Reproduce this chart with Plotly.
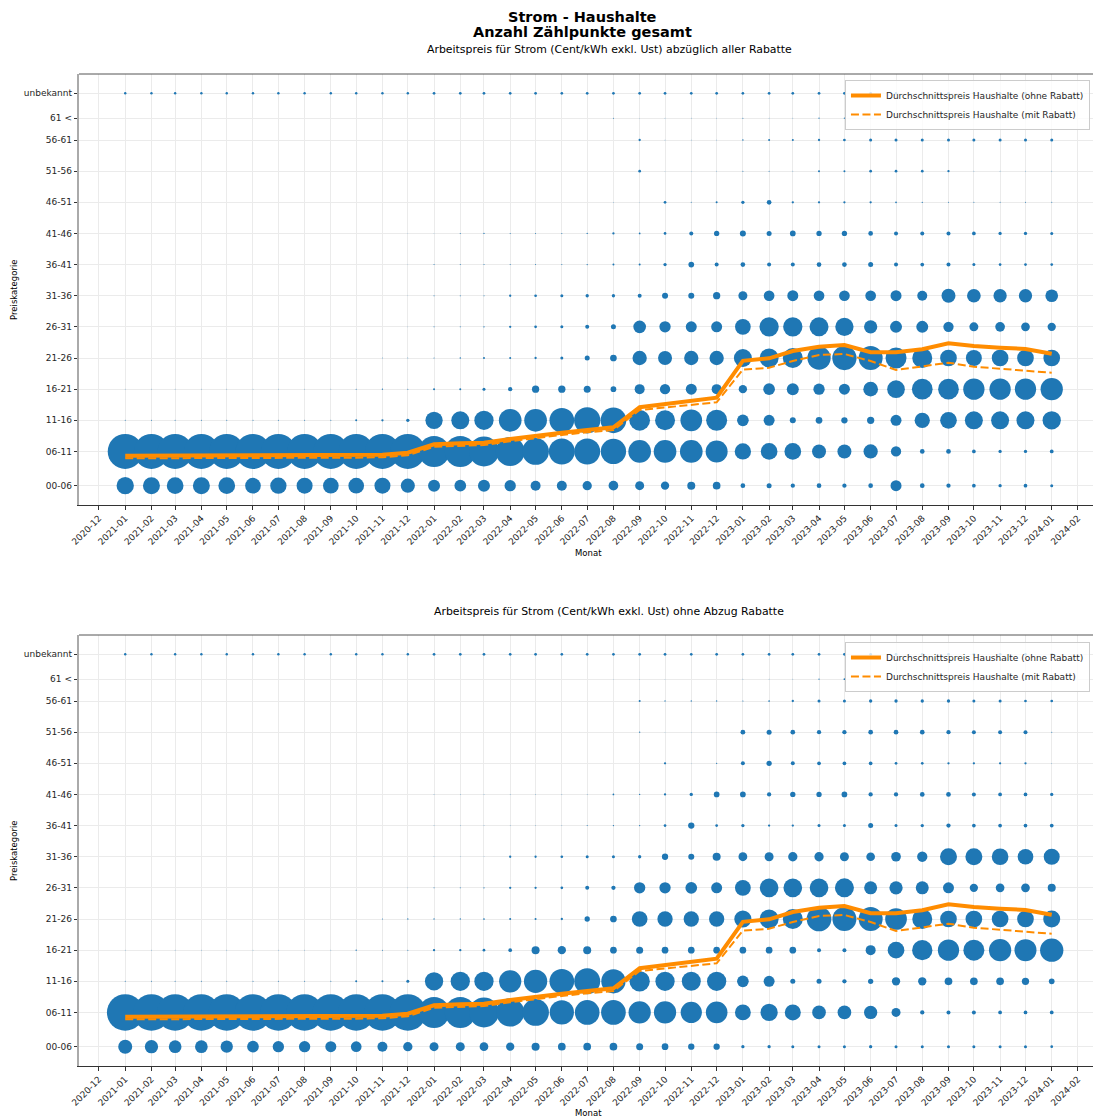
import plotly.graph_objects as go
import pandas as pd

MONATE = pd.date_range("2021-01-01", "2024-01-01", freq="MS")

KATEGORIEN = ["00-06", "06-11", "11-16", "16-21", "21-26", "26-31", "31-36",
              "36-41", "41-46", "46-51", "51-56", "56-61", "61 <", "unbekannt"]
KAT_MITTE = [3, 8.5, 13.5, 18.5, 23.5, 28.5, 33.5, 38.5, 43.5, 48.5, 53.5, 58.5, 62, 66]

# Durchschnittspreise (Cent/kWh), 2021-01 .. 2024-01
PREIS_OHNE_RABATT = [7.82, 7.82, 7.82, 7.84, 7.84, 7.86, 7.88, 7.88, 7.90, 7.92, 7.98, 8.30,
                     9.65, 9.81, 9.90, 10.50, 11.03, 11.51, 11.94, 12.38, 15.59, 16.12, 16.55, 17.13,
                     23.05, 23.45, 24.62, 25.31, 25.59, 24.42, 24.42, 24.90, 25.86, 25.43, 25.15, 24.95, 24.19]
PREIS_MIT_RABATT = [7.40, 7.40, 7.40, 7.42, 7.42, 7.44, 7.46, 7.46, 7.48, 7.50, 7.58, 7.88,
                    9.26, 9.42, 9.53, 10.13, 10.66, 11.14, 11.57, 11.94, 15.15, 15.59, 15.96, 16.39,
                    21.63, 21.94, 23.02, 23.98, 24.14, 23.02, 21.57, 22.22, 22.75, 22.10, 21.78, 21.53, 21.14]

# Anzahl Zählpunkte je Preiskategorie - abzüglich aller Rabatte
A_00_06 = [2990, 2890, 2790, 2890, 2790, 2460, 2660, 2560, 2460, 2460, 2560, 2000,
           1440, 1370, 1440, 1280, 1000, 1000, 860, 940, 810, 690, 640, 590,
           220, 250, 185, 220, 185, 220, 1210, 220, 185, 137, 109, 137, 90]
A_06_11 = [12250, 12250, 12250, 12250, 12250, 12250, 12250, 12250, 12250, 12250, 12250, 12250,
           9610, 9610, 9000, 8410, 7130, 6760, 6760, 6400, 5150, 5150, 5150, 4840,
           2660, 2790, 2790, 1960, 1960, 2045, 1060, 220, 220, 137, 109, 109, 137]
A_11_16 = [10, 10, 10, 10, 10, 10, 10, 10, 10, 40, 53, 109,
           2990, 3240, 3725, 5150, 5150, 6100, 6920, 6600, 4285, 4000, 4710, 4410,
           1370, 1210, 360, 450, 400, 530, 1210, 2340, 2790, 3240, 3240, 3240, 3350]
A_16_21 = [5, 5, 5, 5, 5, 5, 5, 5, 5, 10, 17, 10,
           40, 40, 90, 185, 530, 530, 490, 325, 1000, 1060, 1210, 1000,
           690, 1370, 1440, 1280, 1210, 2160, 3130, 4285, 4285, 4540, 4540, 4540, 4970]
A_21_26 = [0, 0, 0, 0, 0, 0, 0, 0, 0, 0, 8, 8,
           10, 22, 40, 40, 53, 90, 250, 450, 2045, 1960, 2045, 2045,
           3240, 3610, 4000, 5430, 5900, 5760, 4410, 4000, 2790, 2560, 2790, 2790, 2790]
A_26_31 = [0, 0, 0, 0, 0, 0, 0, 0, 0, 0, 0, 3,
           10, 10, 22, 53, 73, 90, 160, 250, 1610, 1280, 1210, 1210,
           2460, 3725, 3725, 3610, 3350, 1770, 1440, 1440, 1060, 810, 940, 760, 690]
A_31_36 = [0, 0, 0, 0, 0, 0, 0, 0, 0, 0, 0, 3,
           10, 10, 10, 53, 73, 90, 109, 109, 160, 360, 360, 530,
           810, 1145, 1210, 1145, 1145, 1145, 1210, 1000, 1960, 1880, 1770, 1770, 1610]
A_36_41 = [0, 0, 0, 0, 0, 0, 0, 0, 0, 0, 0, 3,
           10, 10, 10, 10, 10, 10, 17, 40, 40, 109, 325, 160,
           220, 160, 160, 220, 220, 250, 160, 137, 160, 90, 73, 73, 73]
A_41_46 = [0, 0, 0, 0, 0, 0, 0, 0, 0, 0, 0, 3,
           3, 10, 17, 10, 10, 10, 17, 53, 29, 73, 160, 280,
           360, 250, 325, 280, 280, 220, 160, 160, 160, 137, 109, 109, 90]
A_46_51 = [0, 0, 0, 0, 0, 0, 0, 0, 0, 0, 0, 0,
           0, 0, 0, 0, 0, 0, 0, 5, 3, 73, 10, 40,
           109, 220, 53, 53, 53, 53, 29, 17, 10, 10, 10, 10, 10]
A_51_56 = [0, 0, 0, 0, 0, 0, 0, 0, 0, 0, 0, 0,
           0, 0, 0, 0, 0, 0, 0, 0, 73, 3, 3, 5,
           10, 10, 6, 40, 40, 73, 73, 73, 53, 6, 6, 6, 6]
A_56_61 = [0, 0, 0, 0, 0, 0, 0, 0, 0, 0, 0, 0,
           0, 0, 0, 0, 0, 0, 0, 0, 53, 6, 6, 6,
           22, 40, 40, 53, 73, 90, 90, 90, 90, 90, 90, 90, 90]
A_61 = [0, 0, 0, 0, 0, 0, 0, 0, 0, 0, 0, 0,
        0, 0, 0, 0, 0, 0, 0, 10, 3, 5, 5, 5,
        10, 5, 5, 17, 17, 5, 5, 5, 5, 40, 40, 40, 40]
A_UNBEKANNT = [60, 60, 60, 60, 60, 60, 60, 60, 60, 60, 60, 60,
               73, 73, 73, 73, 73, 73, 73, 73, 73, 73, 73, 73,
               73, 73, 73, 73, 73, 73, 73, 73, 73, 73, 73, 73, 73]

# Anzahl Zählpunkte je Preiskategorie - ohne Abzug Rabatte
B_00_06 = [1960, 1770, 1610, 1610, 1510, 1370, 1280, 1280, 1210, 1145, 1000, 865,
           810, 810, 757, 690, 640, 593, 593, 593, 490, 449, 397, 397,
           109, 109, 90, 90, 90, 109, 90, 90, 90, 90, 90, 90, 73]
B_06_11 = [13400, 13400, 13400, 13400, 13400, 13400, 13400, 13400, 13400, 13400, 13400, 13400,
           9610, 9610, 9000, 8010, 7130, 5900, 6100, 6100, 4970, 4970, 4540, 4710,
           2500, 2990, 2560, 1880, 1880, 1770, 810, 185, 160, 160, 137, 137, 137]
B_11_16 = [10, 10, 10, 10, 10, 10, 10, 10, 10, 40, 40, 90,
           3350, 3725, 3725, 4970, 5430, 6100, 6760, 5900, 4120, 3725, 3610, 3725,
           1370, 1210, 250, 250, 185, 281, 690, 690, 593, 593, 593, 533, 325]
B_16_21 = [5, 5, 5, 5, 5, 5, 5, 5, 5, 20, 10, 10,
           53, 53, 73, 137, 640, 690, 640, 449, 490, 449, 449, 449,
           449, 449, 449, 160, 160, 1000, 2790, 4120, 4540, 4410, 4970, 4840, 5430]
B_21_26 = [0, 0, 0, 0, 0, 0, 0, 0, 0, 0, 10, 17,
           17, 17, 29, 40, 40, 53, 281, 449, 2465, 2341, 2341, 2341,
           2960, 3610, 4000, 6100, 5760, 5760, 4710, 4000, 2790, 2790, 2790, 2790, 2890]
B_26_31 = [0, 0, 0, 0, 0, 0, 0, 0, 0, 0, 0, 3,
           10, 10, 17, 53, 53, 73, 160, 185, 1280, 1280, 1370, 1210,
           2500, 3500, 3500, 3500, 3610, 1690, 1770, 1690, 1210, 690, 757, 757, 640]
B_31_36 = [0, 0, 0, 0, 0, 0, 0, 0, 0, 0, 0, 0,
           5, 5, 5, 53, 53, 73, 90, 90, 109, 397, 360, 640,
           780, 810, 865, 865, 810, 757, 941, 1060, 2890, 2890, 2790, 2465, 2560]
B_36_41 = [0, 0, 0, 0, 0, 0, 0, 0, 0, 0, 0, 0,
           5, 5, 5, 5, 5, 5, 10, 17, 17, 73, 397, 73,
           109, 53, 53, 90, 90, 250, 90, 109, 185, 137, 137, 137, 137]
B_41_46 = [0, 0, 0, 0, 0, 0, 0, 0, 0, 0, 0, 0,
           5, 5, 5, 5, 5, 5, 5, 29, 17, 53, 109, 325,
           325, 185, 281, 281, 325, 185, 185, 221, 221, 160, 137, 137, 109]
B_46_51 = [0, 0, 0, 0, 0, 0, 0, 0, 0, 0, 0, 0,
           0, 0, 0, 0, 0, 0, 0, 0, 0, 53, 3, 17,
           160, 281, 160, 137, 137, 137, 73, 73, 53, 53, 53, 53, 5]
B_51_56 = [0, 0, 0, 0, 0, 0, 0, 0, 0, 0, 0, 0,
           0, 0, 0, 0, 0, 0, 0, 0, 17, 3, 3, 3,
           230, 250, 221, 185, 185, 221, 221, 221, 185, 160, 160, 160, 10]
B_56_61 = [0, 0, 0, 0, 0, 0, 0, 0, 0, 0, 0, 0,
           0, 0, 0, 0, 0, 0, 0, 0, 40, 17, 17, 17,
           14, 29, 53, 90, 90, 109, 109, 109, 109, 90, 90, 73, 73]
B_61 = [0, 0, 0, 0, 0, 0, 0, 0, 0, 0, 0, 0,
        0, 0, 0, 0, 0, 0, 0, 3, 3, 3, 0, 0,
        5, 5, 5, 17, 29, 5, 5, 5, 5, 40, 40, 40, 40]
B_UNBEKANNT = [60, 60, 60, 60, 60, 60, 60, 60, 60, 60, 60, 60,
               73, 73, 73, 73, 73, 73, 73, 73, 73, 73, 73, 73,
               73, 73, 73, 73, 73, 73, 73, 73, 73, 73, 73, 73, 73]

ZEILEN_A = [A_00_06, A_06_11, A_11_16, A_16_21, A_21_26, A_26_31, A_31_36,
            A_36_41, A_41_46, A_46_51, A_51_56, A_56_61, A_61, A_UNBEKANNT]
ZEILEN_B = [B_00_06, B_06_11, B_11_16, B_16_21, B_21_26, B_26_31, B_31_36,
            B_36_41, B_41_46, B_46_51, B_51_56, B_56_61, B_61, B_UNBEKANNT]

BLAU = "#1f77b4"
ORANGE = "#ff8c00"
FONT = "DejaVu Sans"
X_RANGE = ["2020-11-07 09:00", "2024-02-18 19:00"]


def to_long(rows):
    recs = []
    for kat, mitte, werte in zip(KATEGORIEN, KAT_MITTE, rows):
        for m, v in zip(MONATE, werte):
            if v > 0:
                recs.append(dict(Monat=m, Kategorie=kat, y=mitte, Anzahl=v))
    return pd.DataFrame(recs)


df_a = to_long(ZEILEN_A)
df_b = to_long(ZEILEN_B)
max_anzahl = max(df_a["Anzahl"].max(), df_b["Anzahl"].max())
sizeref = 2.0 * max_anzahl / (36.6 ** 2)

fig = go.Figure()

for df, xa, ya, lg in [(df_a, "x", "y", "legend"), (df_b, "x2", "y2", "legend2")]:
    fig.add_trace(go.Scatter(
        x=df["Monat"], y=df["y"], mode="markers", xaxis=xa, yaxis=ya,
        marker=dict(size=df["Anzahl"], sizemode="area", sizeref=sizeref, sizemin=0,
                    color=BLAU, opacity=1, line=dict(width=0)),
        customdata=df["Kategorie"], showlegend=False,
        hovertemplate="%{x|%Y-%m}<br>%{customdata}: %{marker.size}<extra></extra>"))
    fig.add_trace(go.Scatter(
        x=MONATE, y=PREIS_OHNE_RABATT, mode="lines", xaxis=xa, yaxis=ya, legend=lg,
        name="Durchschnittspreis Haushalte (ohne Rabatt)",
        line=dict(color=ORANGE, width=4)))
    fig.add_trace(go.Scatter(
        x=MONATE, y=PREIS_MIT_RABATT, mode="lines", xaxis=xa, yaxis=ya, legend=lg,
        name="Durchschnittspreis Haushalte (mit Rabatt)",
        line=dict(color=ORANGE, width=2, dash="8px,3.5px")))


def x_axis(anchor):
    return dict(type="date", range=X_RANGE, anchor=anchor, domain=[0, 1],
                tickmode="linear", tick0="2020-12-01", dtick="M1", tickformat="%Y-%m",
                tickangle=-45, tickfont=dict(size=9, color="#262626"),
                showgrid=True, gridcolor="#ebebeb", gridwidth=1, zeroline=False,
                showline=True, linecolor="#333333", linewidth=1,
                ticks="outside", ticklen=3.5, tickcolor="#333333")


def y_axis(anchor, dom):
    return dict(range=[-0.1, 69.1], anchor=anchor, domain=dom,
                tickmode="array", tickvals=KAT_MITTE, ticktext=KATEGORIEN,
                tickfont=dict(size=9, color="#262626"),
                showgrid=True, gridcolor="#ebebeb", gridwidth=1, zeroline=False,
                showline=True, linecolor="#aaaaaa", linewidth=1.5,
                ticks="outside", ticklen=3.5, tickcolor="#333333")


H = 1119.0
legend_style = dict(x=0.997, xanchor="right", yanchor="top",
                    bgcolor="rgba(255,255,255,0.8)", bordercolor="#cccccc", borderwidth=1,
                    font=dict(family=FONT, size=9, color="#262626"), tracegroupgap=0)

fig.update_layout(
    width=1093, height=1119, template="none",
    margin=dict(l=79, r=0, t=0, b=0),
    paper_bgcolor="white", plot_bgcolor="white",
    font=dict(family=FONT, size=9, color="#262626"),
    xaxis=x_axis("y"),
    yaxis=y_axis("x", [1 - 505 / H, 1 - 74 / H]),
    xaxis2=x_axis("y2"),
    yaxis2=y_axis("x2", [1 - 1066 / H, 1 - 635 / H]),
    legend=dict(**legend_style, y=1 - 80 / H),
    legend2=dict(**legend_style, y=1 - 642 / H),
    hovermode="closest",
)

# Rahmen oben
for xr, yr in [("x domain", "y domain"), ("x2 domain", "y2 domain")]:
    fig.add_shape(type="line", xref=xr, yref=yr, x0=0, x1=1, y0=1, y1=1,
                  line=dict(color="#555555", width=1))


def px_ann(text, x, y, size, bold=False, angle=0):
    fig.add_annotation(text=f"<b>{text}</b>" if bold else text,
                       xref="paper", yref="paper",
                       x=(x - 79) / 1014.0, y=1 - y / H,
                       xanchor="center", yanchor="middle", showarrow=False,
                       textangle=angle, font=dict(family=FONT, size=size, color="black"))


px_ann("Strom - Haushalte", 582, 17, 14.5, bold=True)
px_ann("Anzahl Zählpunkte gesamt", 582, 32, 14.5, bold=True)
px_ann("Arbeitspreis für Strom (Cent/kWh exkl. Ust) abzüglich aller Rabatte", 609, 50, 10.9)
px_ann("Arbeitspreis für Strom (Cent/kWh exkl. Ust) ohne Abzug Rabatte", 609, 611, 10.9)
px_ann("Monat", 588, 553, 8.5)
px_ann("Monat", 588, 1113, 8.5)
px_ann("Preiskategorie", 14, 290, 8.5, angle=-90)
px_ann("Preiskategorie", 14, 851, 8.5, angle=-90)

fig.write_html("out.html", config={"displayModeBar": False},
               post_script="document.body.style.margin='0';")
